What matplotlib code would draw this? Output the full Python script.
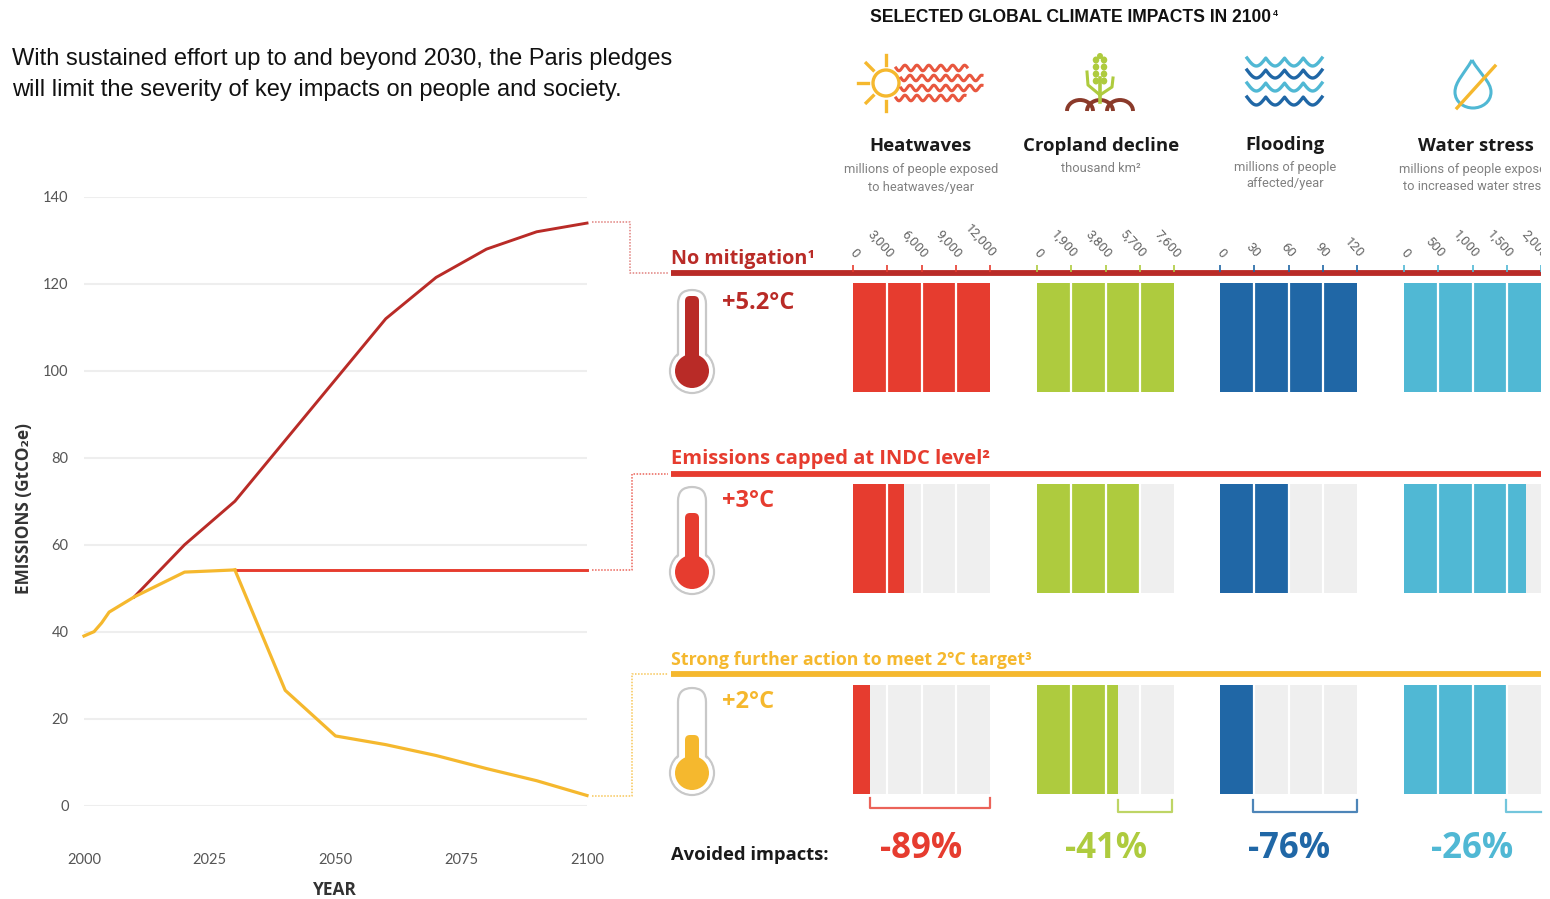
import numpy as np
import matplotlib
matplotlib.use('Agg')
import matplotlib.pyplot as plt
from matplotlib.patches import Circle, FancyBboxPatch, Ellipse, Arc, PathPatch
from matplotlib.path import Path

plt.rcParams['font.family'] = ['Lato', 'DejaVu Sans']
BOLD = ['Open Sans', 'DejaVu Sans']

# Emissions pathways
common_years = [2000, 2002, 2003.5, 2005, 2010, 2020, 2030]
common_vals = [39, 40, 42, 44.5, 48, 53.7, 54.2]
nomit_years = [2010, 2020, 2030, 2040, 2050, 2060, 2070, 2080, 2090, 2100]
nomit_vals = [48, 60, 70, 84, 98, 112, 121.5, 128, 132, 134]
indc_years = [2030, 2100]
indc_vals = [54.2, 54.2]
two_deg_years = [2030, 2040, 2050, 2060, 2070, 2080, 2090, 2100]
two_deg_vals = [54.2, 26.5, 16, 14, 11.5, 8.5, 5.7, 2.3]
y_ticks = [0, 20, 40, 60, 80, 100, 120, 140]
x_ticks = [2000, 2025, 2050, 2075, 2100]

# Impact panels
impact_names = ['Heatwaves', 'Cropland decline', 'Flooding', 'Water stress']
impact_subs = [
    'millions of people exposed\nto heatwaves/year',
    'thousand km²',
    'millions of people\naffected/year',
    'millions of people exposed\nto increased water stress',
]
impact_ticks = [
    [0, 3000, 6000, 9000, 12000],
    [0, 1900, 3800, 5700, 7600],
    [0, 30, 60, 90, 120],
    [0, 500, 1000, 1500, 2000],
]
# rows are no mitigation, INDC, 2C
impact_vals = [
    [12000, 4470, 1490],
    [7600, 5660, 4490],
    [120, 60, 29],
    [2000, 1780, 1490],
]
avoided = ['-89%', '-41%', '-76%', '-26%']
scenario_names = ['No mitigation¹', 'Emissions capped at INDC level²',
                  'Strong further action to meet 2°C target³']
scenario_temps = ['+5.2°C', '+3°C', '+2°C']

DARK_RED = '#b92b27'
RED = '#e63c2f'
YELLOW = '#f5b82e'
GREEN = '#aecb3e'
BLUE = '#2067a6'
CYAN = '#50b8d4'
impact_cols = [RED, GREEN, BLUE, CYAN]
row_cols = [DARK_RED, RED, YELLOW]

W, H = 1550, 899
fig = plt.figure(figsize=(15.5, 8.99), dpi=100)


def px_axes(x0, y0, x1, y1):
    return fig.add_axes([x0 / W, 1 - y1 / H, (x1 - x0) / W, (y1 - y0) / H])


# Line chart
ax = px_axes(84, 197, 587, 805.5)
ax.set_xlim(2000, 2100)
ax.set_ylim(0, 140)
for s in ax.spines.values():
    s.set_visible(False)
ax.set_yticks(y_ticks)
ax.set_xticks(x_ticks)
ax.tick_params(length=0, labelsize=10.5, labelcolor='#555555')
ax.tick_params(axis='y', pad=11)
ax.tick_params(axis='x', pad=34)
ax.grid(axis='y', color='#eeeeee', lw=1.5)
ax.set_axisbelow(True)
ax.plot(nomit_years, nomit_vals, color=DARK_RED, lw=2.1, clip_on=False)
ax.plot(indc_years, indc_vals, color=RED, lw=2.1, clip_on=False)
ax.plot(two_deg_years, two_deg_vals, color=YELLOW, lw=2.3, clip_on=False)
ax.plot(common_years, common_vals, color=YELLOW, lw=2.3, clip_on=False)

# Overlay in pixel coordinates, text is clipped at the right edge like the source
ov = px_axes(0, 0, 1541, H)
ov.set_xlim(0, 1541)
ov.set_ylim(H, 0)
ov.axis('off')
ov.patch.set_alpha(0)

ov.text(12, 59, 'With sustained effort up to and beyond 2030, the Paris pledges',
        family='Liberation Sans', fontsize=17, va='center', color='#111111')
ov.text(12, 90, 'will limit the severity of key impacts on people and society.',
        family='Liberation Sans', fontsize=17, va='center', color='#111111')
ov.text(870, 17.5, 'SELECTED GLOBAL CLIMATE IMPACTS IN 2100', family='Liberation Sans',
        fontsize=12.65, fontweight='bold', va='center', color='#111111')
ov.text(1273, 14, '4', family='Liberation Sans', fontsize=6.5, fontweight='bold',
        va='center', color='#111111')
ov.text(24, 508, 'EMISSIONS (GtCO₂e)', rotation=90, ha='center', va='center',
        family=BOLD, fontsize=12.4, fontweight='bold', color='#333333')
ov.text(335, 890, 'YEAR', ha='center', va='center', family=BOLD, fontsize=12.5,
        fontweight='bold', color='#333333')

# Dotted connectors
conn_x = [592, 630, 630, 668]
conn_ys = [[222, 222, 273, 273], [570, 570, 474, 474], [796, 796, 674, 674]]
conn_cols = ['#d9625e', RED, YELLOW]
for ys, c, xo in zip(conn_ys, conn_cols, [0, 2, 2]):
    ov.plot([conn_x[0], conn_x[1] + xo, conn_x[2] + xo, conn_x[3]], ys, color=c,
            lw=1.1, ls=(0, (1, 1)), alpha=0.8)

# Scenario rules and labels
rule_ys = [272.5, 473.5, 674]
label_ys = [259, 459, 660]
temp_ys = [303, 501, 702]
label_sizes = [14.2, 14.5, 12.8]
for i in range(3):
    ov.plot([671, 1541], [rule_ys[i]] * 2, color=row_cols[i], lw=4.2, solid_capstyle='butt')
    ov.text(671, label_ys[i], scenario_names[i], color=row_cols[i], family=BOLD,
            fontsize=label_sizes[i], fontweight='bold', va='center')
    ov.text(722, temp_ys[i], scenario_temps[i], color=row_cols[i], family=BOLD,
            fontsize=17, fontweight='bold', va='center')

# Thermometers
tube_tops = [290, 487, 688]
bulb_ys = [371, 572, 773]
fill_tops = [296, 513, 735]
for i in range(3):
    top, by, ft = tube_tops[i], bulb_ys[i], fill_tops[i]
    ov.add_patch(Circle((692, by), 22, fc='white', ec='#c8c8c8', lw=1.6, zorder=3))
    ov.add_patch(FancyBboxPatch((678, top), 28, by - top, boxstyle='round,pad=0,rounding_size=14',
                                fc='white', ec='#c8c8c8', lw=1.6, zorder=3))
    ov.add_patch(Circle((692, by), 20.5, fc='white', ec='none', zorder=4))
    ov.add_patch(FancyBboxPatch((685, ft), 14, by - ft, boxstyle='round,pad=0,rounding_size=5',
                                fc=row_cols[i], ec='none', zorder=5))
    ov.add_patch(Circle((692, by), 17, fc=row_cols[i], ec='none', zorder=5))

# Headers above the panels
name_xs = [921, 1101, 1285, 1476]
name_ys = [146, 146, 145, 146]
sub_ys = [169, 169, 167, 169]
sub_gaps = [18, 18, 16, 18]
avoided_xs = [921, 1106, 1289, 1472]
for i in range(4):
    ov.text(name_xs[i], name_ys[i], impact_names[i], ha='center', va='center',
            family=BOLD, fontsize=13.3, fontweight='bold', color='#1a1a1a')
    for j, line in enumerate(impact_subs[i].split('\n')):
        ov.text(name_xs[i], sub_ys[i] + j * sub_gaps[i], line, ha='center', va='center',
                family='Roboto', fontsize=9.3, color='#808080', clip_on=True)
    ov.text(avoided_xs[i], 849, avoided[i], ha='center', va='center', family=BOLD,
            fontsize=25, fontweight='bold', color=impact_cols[i])
ov.text(671, 855, 'Avoided impacts:', va='center', family=BOLD, fontsize=13.2,
        fontweight='bold', color='#1a1a1a')

# Sun and heat waves icon
ov.add_patch(Circle((886, 83), 13, fc='none', ec=YELLOW, lw=2.4))
for deg in [90, 135, 180, 225, 270]:
    a = np.radians(deg)
    ov.plot([886 + 18 * np.cos(a), 886 + 28 * np.cos(a)],
            [83 + 18 * np.sin(a), 83 + 28 * np.sin(a)], color=YELLOW, lw=2.4)
for yw, x0, x1 in [(68, 896, 967), (78, 901, 982), (88, 901, 982), (98, 896, 965)]:
    xw = np.linspace(x0, x1, 300)
    ov.plot(xw, yw + 2.8 * np.sin((xw - x0) / 1.9), color='#e8573f', lw=2.2)

# Wheat icon
ov.plot([1100, 1100], [78, 102], color=GREEN, lw=2.6)
for yk in [60, 67, 74, 81]:
    ov.add_patch(Ellipse((1096, yk), 6.5, 7, fc=GREEN, ec='none'))
    ov.add_patch(Ellipse((1104, yk), 6.5, 7, fc=GREEN, ec='none'))
ov.add_patch(Ellipse((1100, 56), 6, 6, fc=GREEN, ec='none'))
ov.plot([1087, 1088, 1100], [72, 85, 95], color=GREEN, lw=2.2)
ov.plot([1113, 1112, 1100], [78, 87, 95], color=GREEN, lw=2.2)
for xa, w in [(1080, 26), (1100, 26), (1120, 26)]:
    ov.add_patch(Arc((xa, 111), w, 22, theta1=180, theta2=360, ec='#8a3a2a', lw=2.8))

# Water waves icon
wave_rows = [(58, CYAN), (70, BLUE), (83, CYAN), (97, BLUE)]
for yw, c in wave_rows:
    xw = np.linspace(1247, 1322, 400)
    ov.plot(xw, yw + 8 * np.abs(np.sin((xw - 1247) * np.pi / 18.75)), color=c, lw=2.4)

# Drop icon
drop = Path([(1472, 60), (1464, 74), (1455, 82), (1455, 92), (1455, 102), (1464, 108), (1473, 108),
             (1482, 108), (1491, 102), (1491, 92), (1491, 82), (1480, 74), (1472, 60)],
            [Path.MOVETO] + [Path.CURVE4] * 12)
ov.add_patch(PathPatch(drop, fc='none', ec=CYAN, lw=2.2))
ov.plot([1457, 1495], [108, 66], color=YELLOW, lw=2.4)

# Impact panels, one axes per impact, y axis is the scenario row
panel_x0 = [853, 1037, 1220, 1404]
PANEL_W = 137
ROW = 201.0
TOP, BOTTOM = 283, 795
ymin = -(337.5 - TOP) / ROW
ymax = 2 + (BOTTOM - 739.5) / ROW


def row_of(py):
    return (py - 337.5) / ROW


for i in range(4):
    pa = px_axes(panel_x0[i], TOP, panel_x0[i] + PANEL_W, BOTTOM)
    pa.set_xlim(0, impact_ticks[i][-1])
    pa.set_ylim(ymax, ymin)
    pa.axis('off')
    pa.patch.set_alpha(0)
    rows = np.arange(3)
    pa.barh(rows, [impact_ticks[i][-1]] * 3, height=109.5 / ROW, color='#efefef')
    pa.barh(rows, impact_vals[i], height=109.5 / ROW, color=impact_cols[i])
    seps = impact_ticks[i][1:-1]
    for r in rows:
        pa.vlines(seps, r - 109.5 / ROW / 2, r + 109.5 / ROW / 2, color='white', lw=1.6)
    # ticks and rotated labels above the first rule
    tk = pa.vlines(impact_ticks[i], row_of(265), row_of(272), color=impact_cols[i], lw=1.2,
                   clip_on=False)
    if i == 3:
        tk.set_clip_on(True)
        tk.set_clip_path(ov.patch)
    for t in impact_ticks[i]:
        an = pa.annotate(f'{t:,}', xy=(t, row_of(256)), xycoords='data', xytext=(3, 0),
                         textcoords='offset points', rotation=-48, rotation_mode='anchor',
                         ha='right', va='center', family='Roboto', fontsize=9.5,
                         color='#666666', annotation_clip=False)
        # water stress labels are cut at the right edge of the picture
        if i == 3:
            an.set_clip_path(ov.patch)
            an.set_clip_on(True)
    # bracket for avoided impacts
    v = impact_vals[i][2]
    m = impact_ticks[i][-1]
    b_top, b_bot = [(798, 808), (800, 812), (800, 812), (800, 812)][i]
    if i == 3:
        pa.plot([v, v, m], [row_of(b_top), row_of(b_bot), row_of(b_bot)],
                color=impact_cols[i], lw=1.6, alpha=0.8, clip_on=False)
    else:
        end = m * 0.985 if i == 1 else m
        pa.plot([v, v, end, end],
                [row_of(b_top), row_of(b_bot), row_of(b_bot), row_of(b_top)],
                color=impact_cols[i], lw=1.6, alpha=0.8, clip_on=False)

fig.savefig('out.png', dpi=100)
